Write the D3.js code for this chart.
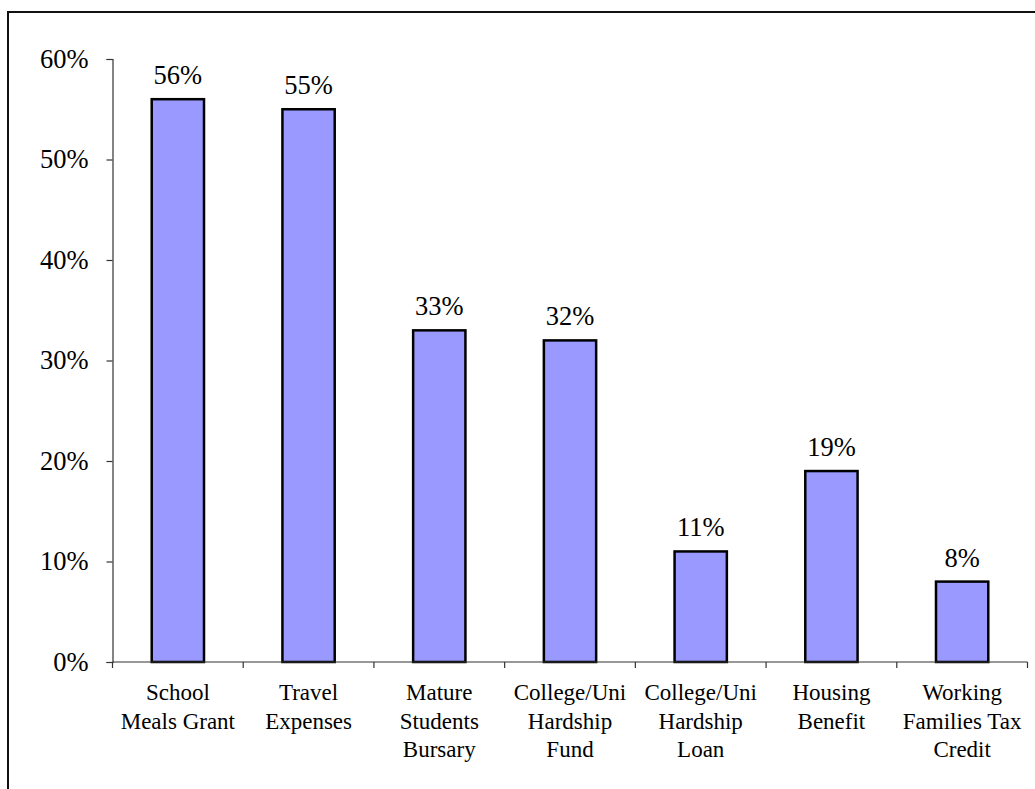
<!DOCTYPE html>
<html>
<head>
<meta charset="utf-8">
<script src="https://cdn.jsdelivr.net/npm/d3@7"></script>
<style>
  html, body { margin: 0; padding: 0; background: #fff; }
  svg { display: block; }
  svg text { font-family: "Liberation Serif", "Times New Roman", Times, serif; }
</style>
</head>
<body>
<svg id="chart" width="1035" height="789"></svg>
<script>
// Share of respondents receiving each type of support
const categories = [
  ["School", "Meals Grant"],
  ["Travel", "Expenses"],
  ["Mature", "Students", "Bursary"],
  ["College/Uni", "Hardship", "Fund"],
  ["College/Uni", "Hardship", "Loan"],
  ["Housing", "Benefit"],
  ["Working", "Families Tax", "Credit"]
];
const values = [0.56, 0.55, 0.33, 0.32, 0.11, 0.19, 0.08];
const yTicks = [0, 0.1, 0.2, 0.3, 0.4, 0.5, 0.6];

const svg = d3.select("#chart");
const font = "Liberation Serif, Times New Roman, serif";

// outer frame (runs off the right and bottom edges)
svg.append("rect")
  .attr("x", 8).attr("y", 12)
  .attr("width", 1040).attr("height", 790)
  .attr("fill", "none").attr("stroke", "#111").attr("stroke-width", 2);

const plot = { left: 112.5, right: 1027.5, top: 59, bottom: 662 };

const x = d3.scaleBand()
  .domain(d3.range(categories.length))
  .range([plot.left, plot.right])
  .paddingInner(0).paddingOuter(0);

const y = d3.scaleLinear().domain([0, 0.6]).range([plot.bottom, plot.top]);

// bars
const barW = x.bandwidth() * 0.4;
svg.append("g").selectAll("rect")
  .data(values)
  .join("rect")
  .attr("x", (d, i) => x(i) + (x.bandwidth() - barW) / 2)
  .attr("y", d => y(d))
  .attr("width", barW)
  .attr("height", d => y(0) - y(d))
  .attr("fill", "#9999ff")
  .attr("stroke", "#000")
  .attr("stroke-width", 2.5);

// value labels
svg.append("g").selectAll("text")
  .data(values)
  .join("text")
  .attr("x", (d, i) => x(i) + x.bandwidth() / 2)
  .attr("y", d => y(d) - 15)
  .attr("text-anchor", "middle")
  .attr("font-family", font)
  .attr("font-size", 26.5)
  .attr("fill", "#000")
  .text(d => d3.format(".0%")(d));

// y axis
const yAxis = d3.axisLeft(y)
  .tickValues(yTicks)
  .tickFormat(d3.format(".0%"))
  .tickSize(6)
  .tickPadding(18);
const gy = svg.append("g")
  .attr("transform", `translate(${plot.left},0)`)
  .call(yAxis)
  .attr("font-family", font)
  .attr("font-size", 26.5);
gy.select(".domain").attr("stroke", "#333").attr("stroke-width", 1.2);
gy.selectAll(".tick line").attr("stroke", "#333").attr("stroke-width", 1.2);
gy.selectAll(".tick text").attr("fill", "#000");

// x axis: ticks at band boundaries
const gx = svg.append("g");
gx.append("line")
  .attr("x1", plot.left).attr("x2", plot.right)
  .attr("y1", plot.bottom).attr("y2", plot.bottom)
  .attr("stroke", "#333").attr("stroke-width", 1.2);
const boundaries = d3.range(categories.length + 1).map(i =>
  i < categories.length ? x(i) : x(i - 1) + x.bandwidth());
gx.selectAll("line.tick")
  .data(boundaries)
  .join("line")
  .attr("class", "tick")
  .attr("x1", d => d).attr("x2", d => d)
  .attr("y1", plot.bottom).attr("y2", plot.bottom + 6)
  .attr("stroke", "#333").attr("stroke-width", 1.2);

// category labels
const catText = svg.append("g").selectAll("text")
  .data(categories)
  .join("text")
  .attr("text-anchor", "middle")
  .attr("font-family", font)
  .attr("font-size", 23)
  .attr("fill", "#000");
catText.each(function(lines, i) {
  const cx = x(i) + x.bandwidth() / 2;
  d3.select(this).selectAll("tspan")
    .data(lines)
    .join("tspan")
    .attr("x", cx)
    .attr("y", (d, j) => 700 + j * 28.5)
    .text(d => d);
});
</script>
</body>
</html>
